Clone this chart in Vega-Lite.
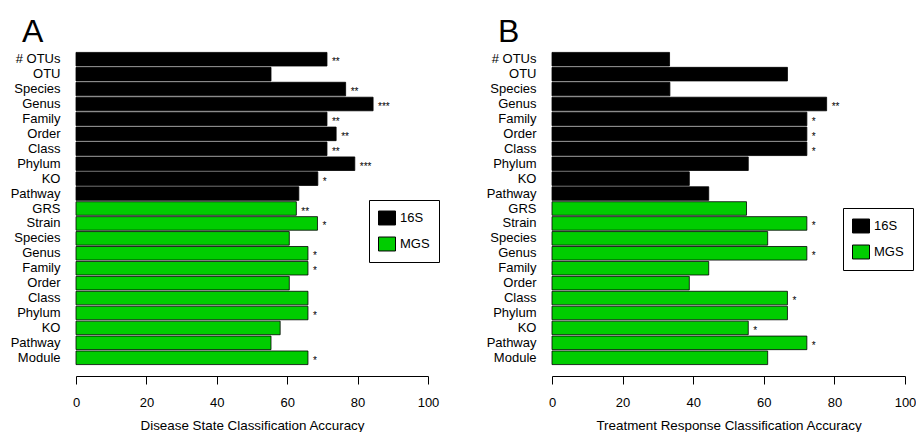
{
  "$schema": "https://vega.github.io/schema/vega-lite/v6.json",
  "autosize": {"type": "pad"},
  "padding": {"left": 10, "top": 16, "right": 0, "bottom": 0},
  "bounds": "flush",
  "spacing": 124,
  "background": "white",
  "config": {
    "font": "Liberation Sans",
    "view": {"stroke": null},
    "axis": {"labelColor": "black", "titleColor": "black", "labelFontSize": 13, "titleFontSize": 13.4, "titleFontWeight": "normal", "grid": false, "labelFlush": false},
    "legend": {"labelFontSize": 13, "labelColor": "black"}
  },
  "resolve": {"scale": {"color": "independent", "y": "independent", "x": "independent"}, "legend": {"color": "independent"}},
  "datasets": {
    "A": [
      {"id": "16S|# OTUs", "type": "16S", "acc": 71.3, "sig": "**"},
      {"id": "16S|OTU", "type": "16S", "acc": 55.4, "sig": ""},
      {"id": "16S|Species", "type": "16S", "acc": 76.6, "sig": "**"},
      {"id": "16S|Genus", "type": "16S", "acc": 84.4, "sig": "***"},
      {"id": "16S|Family", "type": "16S", "acc": 71.3, "sig": "**"},
      {"id": "16S|Order", "type": "16S", "acc": 73.9, "sig": "**"},
      {"id": "16S|Class", "type": "16S", "acc": 71.3, "sig": "**"},
      {"id": "16S|Phylum", "type": "16S", "acc": 79.2, "sig": "***"},
      {"id": "16S|KO", "type": "16S", "acc": 68.7, "sig": "*"},
      {"id": "16S|Pathway", "type": "16S", "acc": 63.3, "sig": ""},
      {"id": "MGS|GRS", "type": "MGS", "acc": 62.6, "sig": "**"},
      {"id": "MGS|Strain", "type": "MGS", "acc": 68.6, "sig": "*"},
      {"id": "MGS|Species", "type": "MGS", "acc": 60.6, "sig": ""},
      {"id": "MGS|Genus", "type": "MGS", "acc": 65.9, "sig": "*"},
      {"id": "MGS|Family", "type": "MGS", "acc": 65.9, "sig": "*"},
      {"id": "MGS|Order", "type": "MGS", "acc": 60.6, "sig": ""},
      {"id": "MGS|Class", "type": "MGS", "acc": 65.9, "sig": ""},
      {"id": "MGS|Phylum", "type": "MGS", "acc": 65.9, "sig": "*"},
      {"id": "MGS|KO", "type": "MGS", "acc": 58.0, "sig": ""},
      {"id": "MGS|Pathway", "type": "MGS", "acc": 55.4, "sig": ""},
      {"id": "MGS|Module", "type": "MGS", "acc": 65.9, "sig": "*"}
    ],
    "B": [
      {"id": "16S|# OTUs", "type": "16S", "acc": 33.3, "sig": ""},
      {"id": "16S|OTU", "type": "16S", "acc": 66.7, "sig": ""},
      {"id": "16S|Species", "type": "16S", "acc": 33.4, "sig": ""},
      {"id": "16S|Genus", "type": "16S", "acc": 77.8, "sig": "**"},
      {"id": "16S|Family", "type": "16S", "acc": 72.2, "sig": "*"},
      {"id": "16S|Order", "type": "16S", "acc": 72.2, "sig": "*"},
      {"id": "16S|Class", "type": "16S", "acc": 72.2, "sig": "*"},
      {"id": "16S|Phylum", "type": "16S", "acc": 55.6, "sig": ""},
      {"id": "16S|KO", "type": "16S", "acc": 38.9, "sig": ""},
      {"id": "16S|Pathway", "type": "16S", "acc": 44.4, "sig": ""},
      {"id": "MGS|GRS", "type": "MGS", "acc": 55.1, "sig": ""},
      {"id": "MGS|Strain", "type": "MGS", "acc": 72.2, "sig": "*"},
      {"id": "MGS|Species", "type": "MGS", "acc": 61.1, "sig": ""},
      {"id": "MGS|Genus", "type": "MGS", "acc": 72.2, "sig": "*"},
      {"id": "MGS|Family", "type": "MGS", "acc": 44.4, "sig": ""},
      {"id": "MGS|Order", "type": "MGS", "acc": 38.9, "sig": ""},
      {"id": "MGS|Class", "type": "MGS", "acc": 66.7, "sig": "*"},
      {"id": "MGS|Phylum", "type": "MGS", "acc": 66.7, "sig": ""},
      {"id": "MGS|KO", "type": "MGS", "acc": 55.6, "sig": "*"},
      {"id": "MGS|Pathway", "type": "MGS", "acc": 72.2, "sig": "*"},
      {"id": "MGS|Module", "type": "MGS", "acc": 61.1, "sig": ""}
    ]
  },
  "hconcat": [
    {
      "width": 352,
      "height": 315,
      "data": {"name": "A"},
      "title": {"text": "A", "anchor": "start", "frame": "group", "dx": -54, "fontSize": 32, "fontWeight": "normal", "offset": 2, "color": "black"},
      "encoding": {
        "y": {"field": "id", "type": "nominal", "sort": null, "scale": {"paddingInner": 0.09, "paddingOuter": 0.095},
          "axis": {"title": null, "domain": false, "ticks": false, "labelPadding": 16, "labelExpr": "split(datum.label, '|')[1]"}},
        "x": {"field": "acc", "type": "quantitative", "scale": {"domain": [0, 100], "nice": false},
          "axis": {"title": "Disease State Classification Accuracy", "values": [0, 20, 40, 60, 80, 100], "tickSize": 8, "tickColor": "black", "domainColor": "black", "offset": 10, "labelPadding": 12, "titlePadding": 9}}
      },
      "layer": [
        {
          "mark": {"type": "bar", "stroke": "black", "strokeWidth": 0.8},
          "encoding": {
            "color": {"field": "type", "type": "nominal", "scale": {"domain": ["16S", "MGS"], "range": ["black", "#00CD00"]},
              "legend": {"title": null, "orient": "none", "legendX": 293, "legendY": 149, "strokeColor": "black", "padding": 9, "rowPadding": 8, "labelOffset": 4,
                "symbolType": "M-1,-0.82H1V0.82H-1Z", "symbolSize": 289, "symbolStrokeColor": "black", "symbolStrokeWidth": 1, "symbolOpacity": 1}}
          }
        },
        {
          "mark": {"type": "text", "align": "left", "baseline": "alphabetic", "dx": 5, "dy": 6, "fontSize": 10, "fill": "black"},
          "encoding": {"text": {"field": "sig"}}
        }
      ]
    },
    {
      "width": 353,
      "height": 315,
      "data": {"name": "B"},
      "title": {"text": "B", "anchor": "start", "frame": "group", "dx": -54, "fontSize": 32, "fontWeight": "normal", "offset": 2, "color": "black"},
      "encoding": {
        "y": {"field": "id", "type": "nominal", "sort": null, "scale": {"paddingInner": 0.09, "paddingOuter": 0.095},
          "axis": {"title": null, "domain": false, "ticks": false, "labelPadding": 16, "labelExpr": "split(datum.label, '|')[1]"}},
        "x": {"field": "acc", "type": "quantitative", "scale": {"domain": [0, 100], "nice": false},
          "axis": {"title": "Treatment Response Classification Accuracy", "values": [0, 20, 40, 60, 80, 100], "tickSize": 8, "tickColor": "black", "domainColor": "black", "offset": 10, "labelPadding": 12, "titlePadding": 9}}
      },
      "layer": [
        {
          "mark": {"type": "bar", "stroke": "black", "strokeWidth": 0.8},
          "encoding": {
            "color": {"field": "type", "type": "nominal", "scale": {"domain": ["16S", "MGS"], "range": ["black", "#00CD00"]},
              "legend": {"title": null, "orient": "none", "legendX": 291, "legendY": 157, "strokeColor": "black", "padding": 9, "rowPadding": 8, "labelOffset": 4,
                "symbolType": "M-1,-0.82H1V0.82H-1Z", "symbolSize": 289, "symbolStrokeColor": "black", "symbolStrokeWidth": 1, "symbolOpacity": 1}}
          }
        },
        {
          "mark": {"type": "text", "align": "left", "baseline": "alphabetic", "dx": 5, "dy": 6, "fontSize": 10, "fill": "black"},
          "encoding": {"text": {"field": "sig"}}
        }
      ]
    }
  ]
}
